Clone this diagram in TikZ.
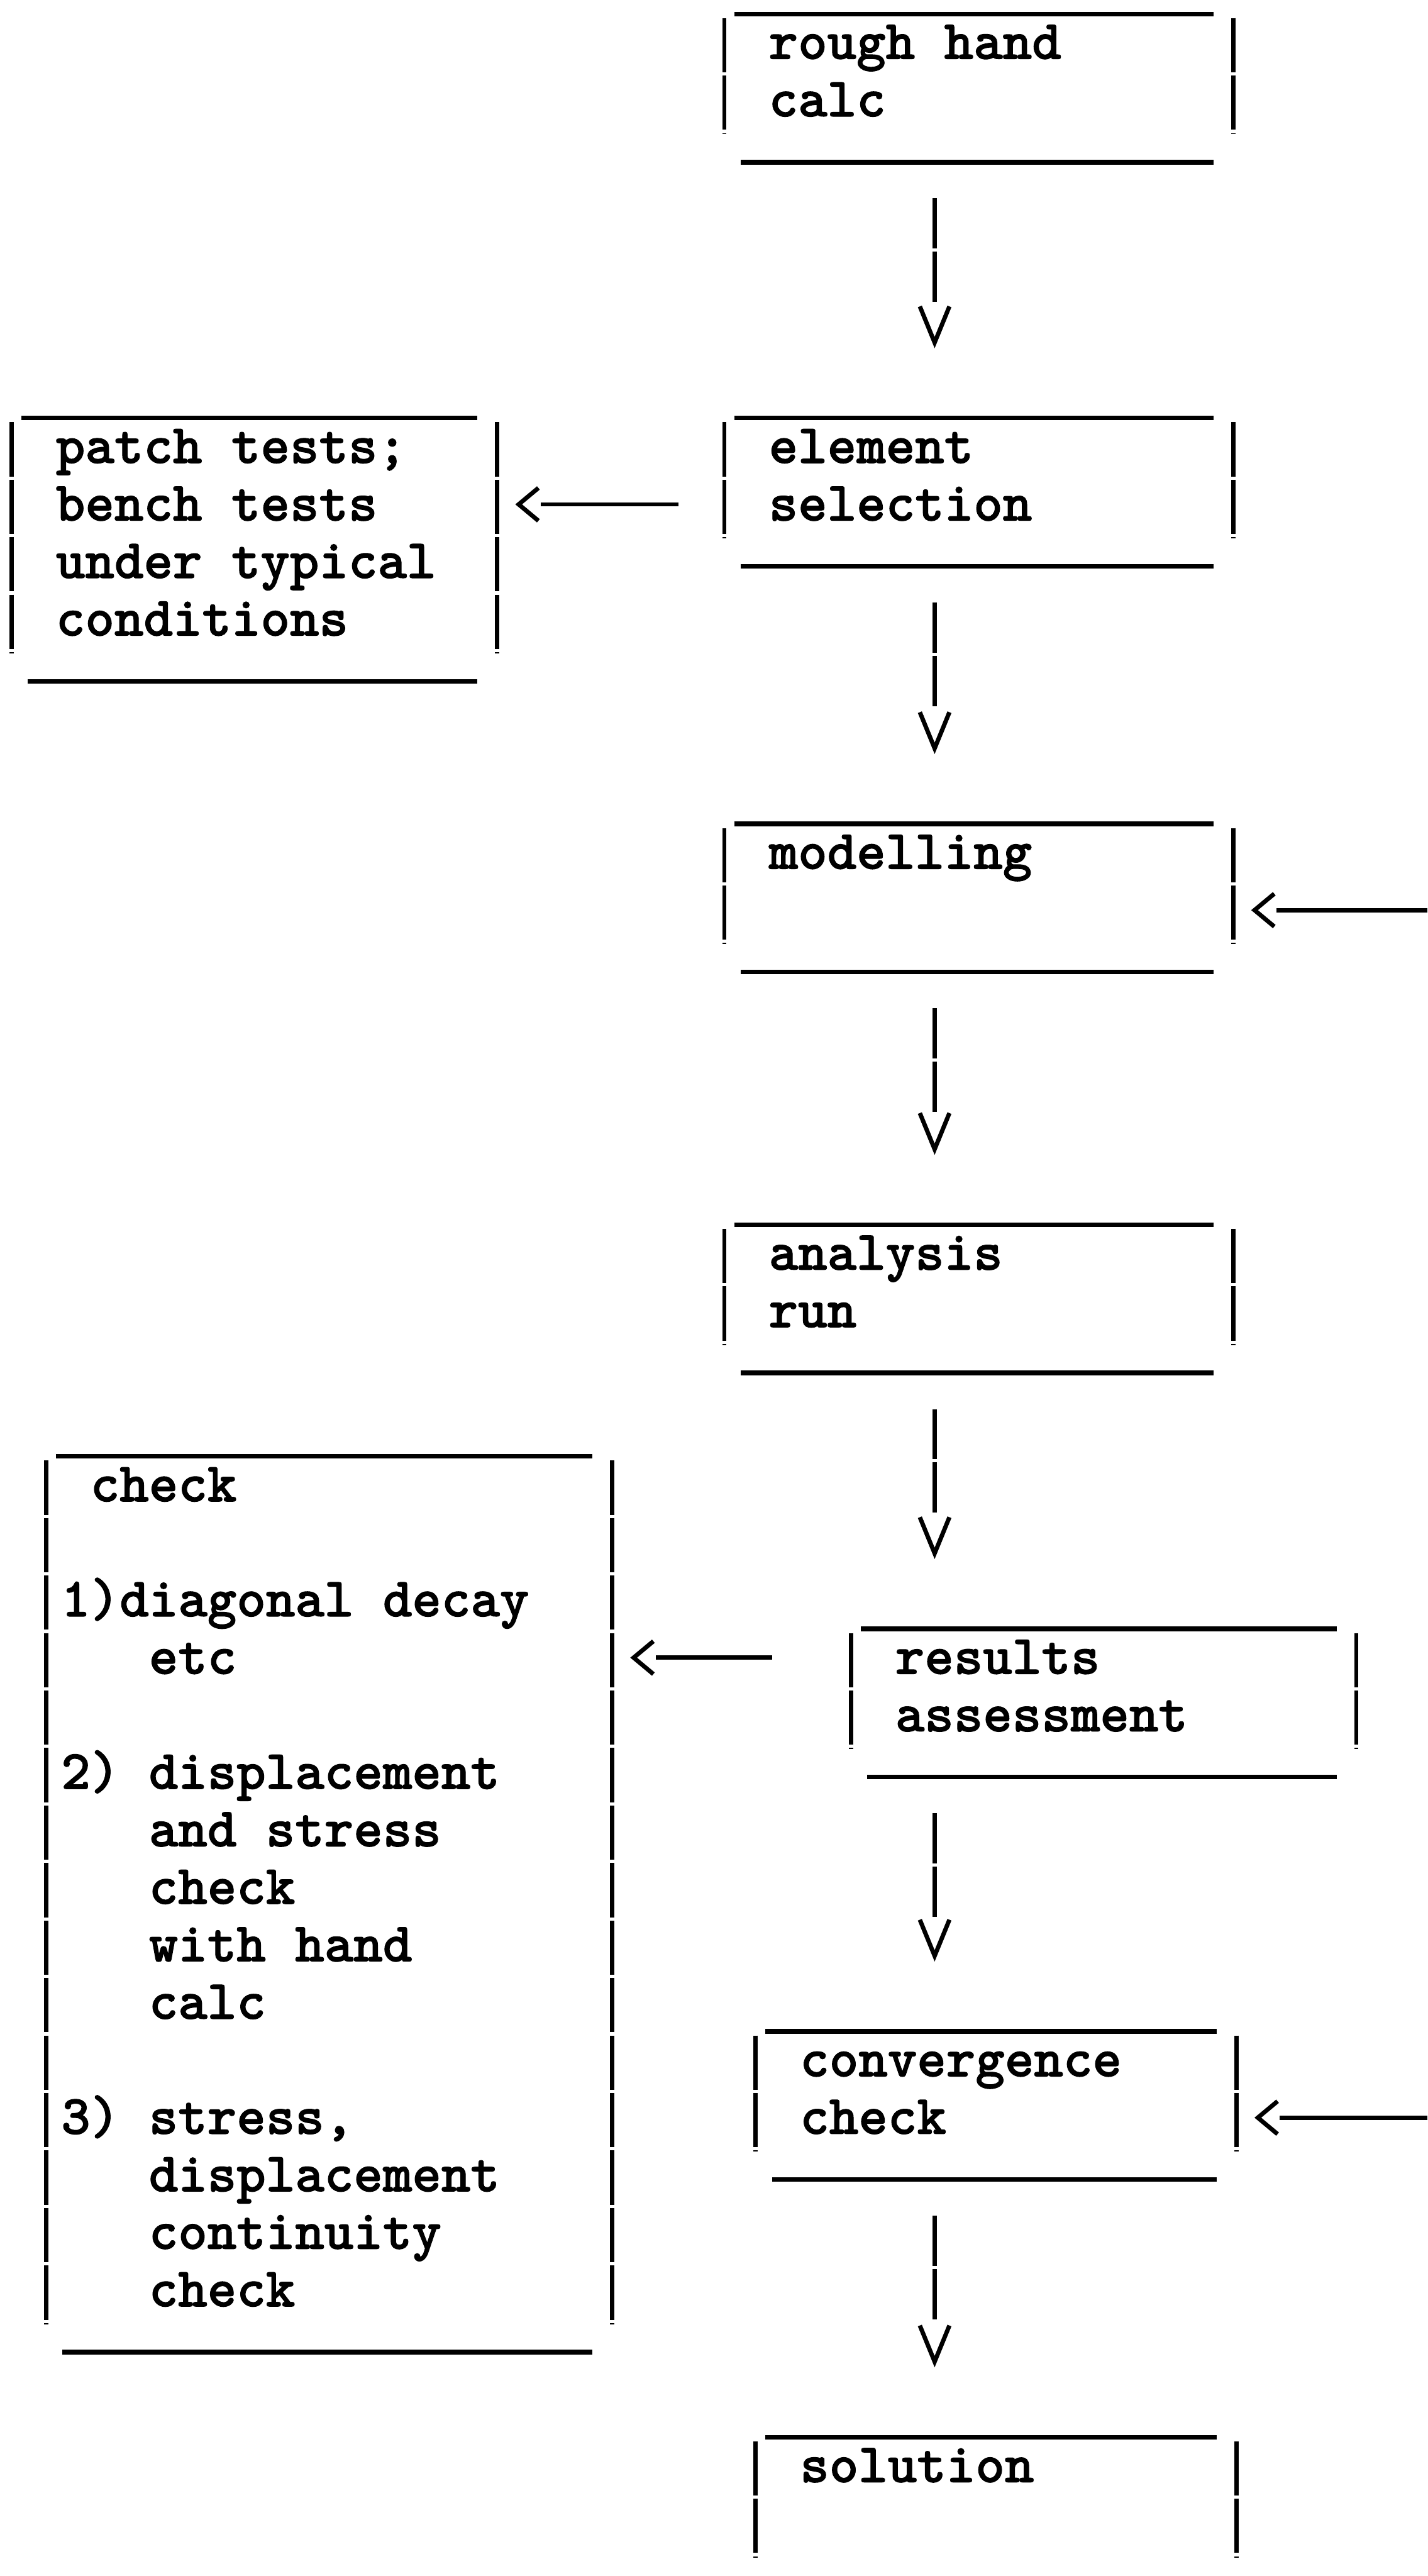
\documentclass[tikz,border=0pt]{standalone}
\usepackage{fontspec}
\usetikzlibrary{arrows.meta}
\newfontfamily\boxtt{lmmonolt10-bold.otf}[FakeBold=1.2]
\newcommand{\boxfont}{\fontsize{19.3pt}{7mm}\boxtt}
\tikzset{
  box/.style={anchor=north west, align=left, inner xsep=1.78mm, inner ysep=0pt,
    font=\boxfont, execute at begin node={\spaceskip=3.56mm\xspaceskip=3.56mm\strut},
    execute at end node=\strut},
  rule/.style={line width=1.6pt},
  bar/.style={line width=1.5pt, dash pattern=on 6.6mm off 0.4mm},
  down/.style={line width=1.5pt, dash pattern=on 6.1mm off 0.4mm on 6.1mm off 30mm,
    shorten <=7.8mm, shorten >=9mm,
    -{Straight Barb[length=4.4mm,width=3.6mm]}},
  back/.style={line width=1.5pt, shorten >=2.2mm,
    -{. Straight Barb[length=2.4mm,width=4mm]}}
}
\begin{document}
\begin{tikzpicture}[x=0.2mm,y=-0.2mm]
\useasboundingbox (0,0) rectangle (869,1568);
%main column
\node[box, text width=58.24mm] (rough) at (441,11) {~rough hand\\~calc};
\node[box, text width=58.24mm] (elem) at (441,257) {~element\\~selection};
\node[box, text width=58.24mm] (model) at (441,504) {~modelling\\~};
\node[box, text width=58.24mm] (anal) at (441,748) {~analysis\\~run};
\node[box, text width=57.84mm] (res) at (518,994) {~results\\~assessment};
\node[box, text width=54.84mm] (conv) at (460,1239) {~convergence\\~check};
\node[box, text width=54.84mm] (sol) at (460,1486) {~solution\\~};
%side boxes
\node[box, text width=55.44mm] (patch) at (7,257) {~patch tests;\\~bench tests\\~under typical\\~conditions};
\node[box, text width=65.24mm] (check) at (28,889) {~check\\~\\1)diagonal decay\\~~~etc\\~\\2) displacement\\~~~and stress\\~~~check\\~~~with hand\\~~~calc\\~\\3) stress,\\~~~displacement\\~~~continuity\\~~~check};
%frames
\foreach \bx in {rough,elem,patch,model,anal,res,check,conv,sol}{
  \draw[rule] ([xshift=1.2mm,yshift=0.5mm]\bx.north west) -- ([xshift=-2.4mm,yshift=0.5mm]\bx.north east);
  \draw[bar] (\bx.north west) -- (\bx.south west) (\bx.north east) -- (\bx.south east);
}
\foreach \bx in {rough,elem,patch,model,anal,res,check,conv}
  \draw[rule] ([xshift=2mm,yshift=-3.4mm]\bx.south west) -- ([xshift=-2.4mm,yshift=-3.4mm]\bx.south east);
%arrows
\coordinate (spine) at (569,0);
\coordinate (rim) at (869,0);
\draw[down] (rough.south -| spine) -- (elem.north -| spine);
\draw[down] (elem.south -| spine) -- (model.north -| spine);
\draw[down] (model.south -| spine) -- (anal.north -| spine);
\draw[down] (anal.south -| spine) -- (res.north -| spine);
\draw[down] (res.south -| spine) -- (conv.north -| spine);
\draw[down] (conv.south -| spine) -- (sol.north -| spine);
\coordinate (elemrow) at ([yshift=-10mm]elem.north west);
\draw[back, shorten <=5.6mm] (elemrow) -- (elemrow -| patch.east);
\coordinate (resrow) at ([yshift=-3mm]res.north west);
\draw[back, shorten <=9.6mm] (resrow) -- (resrow -| check.east);
\coordinate (modelrow) at ([yshift=-10mm]model.north east);
\draw[back] (modelrow -| rim) -- (modelrow);
\coordinate (convrow) at ([yshift=-10mm]conv.north east);
\draw[back] (convrow -| rim) -- (convrow);
\end{tikzpicture}
\end{document}
